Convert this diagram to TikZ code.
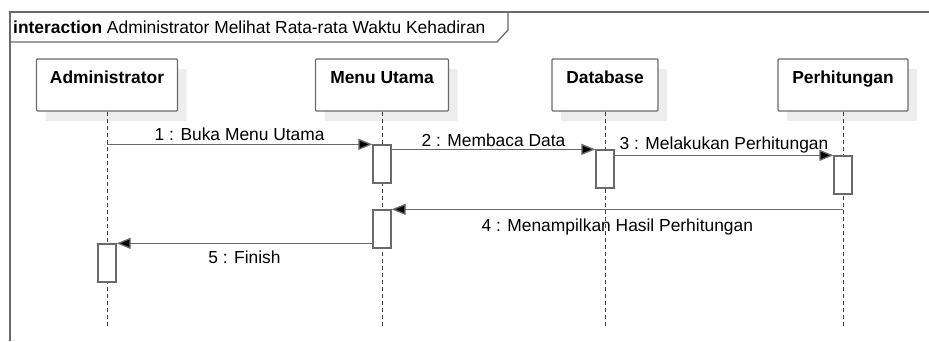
\documentclass[tikz,border=0pt]{standalone}
\usepackage{fontspec}
\setmainfont{Liberation Sans}
\usetikzlibrary{arrows.meta,shadows}
\definecolor{linegrey}{HTML}{6A6A6A}
\definecolor{shadegrey}{HTML}{EDEDED}

\begin{document}
\begin{tikzpicture}[x=1pt,y=-1pt,
	font=\fontsize{17.4}{20}\selectfont,
	head/.style={draw=linegrey,line width=1.3pt,fill=white,rounded corners=1pt,
		general shadow={fill=shadegrey,shadow xshift=9pt,shadow yshift=-10pt},
		minimum height=52pt,inner ysep=12pt,text height=12pt,text depth=16pt,font=\fontsize{17.4}{20}\selectfont\bfseries},
	act/.style={draw=linegrey,line width=1.3pt,fill=white,minimum width=18pt,minimum height=38pt,inner sep=0pt},
	life/.style={black!75,line width=1pt,dash pattern=on 4pt off 3pt},
	msg/.style={linegrey,line width=1.3pt,-{Triangle[length=14pt,width=11pt,fill=black]}},
	lbl/.style={text=black,inner sep=2pt}]
	\useasboundingbox (0,0) rectangle (929,341);
	
	\draw[linegrey,line width=1.3pt] (10,341) -- (10,12) -- (929,12);
	\draw[linegrey,line width=1.3pt] (10,42) -- (497,42) -- (508,30) -- (508,12);
	\node[anchor=base west,inner sep=0pt] (title) at (13,33) {\textbf{interaction} Administrator Melihat Rata-rata Waktu Kehadiran};
	
	\node[head,minimum width=141pt] (adm) at (107,85) {Administrator};
	\node[head,minimum width=133pt] (menu) at (382,85) {Menu Utama};
	\node[head,minimum width=106pt] (db) at (605,85) {Database};
	\node[head,minimum width=130pt] (calc) at (843,85) {Perhitungan};
	
	\coordinate (admEnd) at (107,327);
	\coordinate (menuEnd) at (382,327);
	\coordinate (dbEnd) at (605,327);
	\coordinate (calcEnd) at (843,327);
	
	\draw[life] (adm) -- (admEnd);
	\draw[life] (menu) -- (menuEnd);
	\draw[life] (db) -- (dbEnd);
	\draw[life] (calc) -- (calcEnd);
	
	\node[act] (M1) at (382,164) {};
	\node[act] (D1) at (605,169) {};
	\node[act] (C1) at (843,175) {};
	\node[act] (M2) at (382,229) {};
	\node[act] (A1) at (107,263) {};
	
	\draw[msg] (M1.north west -| adm) -- node[lbl,above,yshift=1pt]{1 : Buka Menu Utama} (M1.north west);
	\draw[msg] (D1.north west -| M1.east) -- node[lbl,above]{2 : Membaca Data} (D1.north west);
	\draw[msg] (C1.north west -| D1.east) -- node[lbl,above]{3 : Melakukan Perhitungan} (C1.north west);
	\draw[msg] (M2.north east -| calc) -- node[lbl,below,yshift=-7pt]{4 : Menampilkan Hasil Perhitungan} (M2.north east);
	\draw[msg] (A1.north east -| M2.west) -- node[lbl,below,yshift=-5pt]{5 : Finish} (A1.north east);
\end{tikzpicture}
\end{document}
